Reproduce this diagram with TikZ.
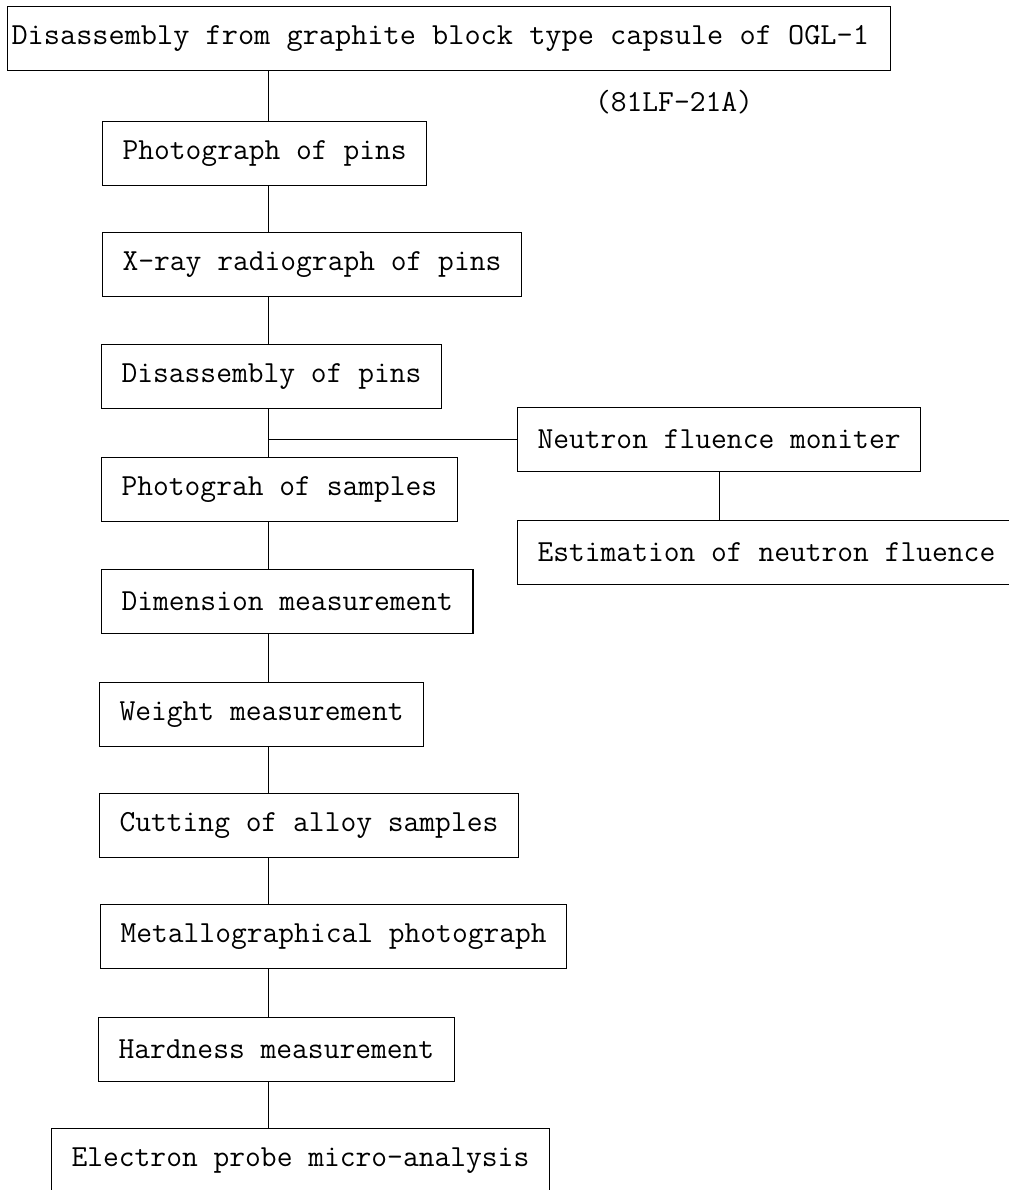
\documentclass[tikz,border=0pt]{standalone}
\usepackage{tikz}
\usetikzlibrary{positioning}
\tikzset{
  stage/.style={draw, rectangle, anchor=north west, minimum height=16mm, inner xsep=5mm, inner ysep=0pt, line width=0.8pt, font=\fontsize{21.8}{24}\selectfont\ttfamily},
  tag/.style={font=\fontsize{21.8}{24}\selectfont\ttfamily},
  line/.style={line width=0.6pt}
}
\begin{document}
\begin{tikzpicture}[x=0.25mm, y=-0.25mm]
    \useasboundingbox (0,0) rectangle (1009,1190);
    \coordinate (spine) at (268,0);

    \node[stage, inner xsep=1mm] (capsule) at (7,6) {\makebox[218.75mm][l]{\scalebox{1.025}[1]{Disassembly from graphite block type capsule of OGL-1}}};
    \node[tag] (code) at (674,102) {(81LF-21A)};

    \node[stage] (pinphoto) at (102,121) {Photograph of pins};
    \node[stage] (xray) at (102,232) {X-ray radiograph of pins};
    \node[stage] (pindis) at (101,344) {Disassembly of pins};
    \node[stage] (samplephoto) at (101,457) {Photograh of samples};
    \node[stage] (dimension) at (101,569) {Dimension measurement};
    \node[stage] (weight) at (99,682) {Weight measurement};
    \node[stage] (cutting) at (99,793) {Cutting of alloy samples};
    \node[stage] (metallo) at (100,904) {Metallographical photograph};
    \node[stage] (hardness) at (98,1017) {Hardness measurement};
    \node[stage] (epma) at (51,1128) {Electron probe micro-analysis};

    \node[stage] (monitor) at (517,407) {Neutron fluence moniter};
    \node[stage] (fluence) at (517,520) {Estimation of neutron fluence};

    \draw[line] (capsule.south -| spine) -- (pinphoto.north -| spine);
    \draw[line] (pinphoto.south -| spine) -- (xray.north -| spine);
    \draw[line] (xray.south -| spine) -- (pindis.north -| spine);
    \draw[line] (pindis.south -| spine) -- (samplephoto.north -| spine);
    \draw[line] (samplephoto.south -| spine) -- (dimension.north -| spine);
    \draw[line] (dimension.south -| spine) -- (weight.north -| spine);
    \draw[line] (weight.south -| spine) -- (cutting.north -| spine);
    \draw[line] (cutting.south -| spine) -- (metallo.north -| spine);
    \draw[line] (metallo.south -| spine) -- (hardness.north -| spine);
    \draw[line] (hardness.south -| spine) -- (epma.north -| spine);

    \draw[line] (monitor.west -| spine) -- (monitor.west);
    \draw[line] (monitor.south) -- (monitor.south |- fluence.north);
\end{tikzpicture}
\end{document}
